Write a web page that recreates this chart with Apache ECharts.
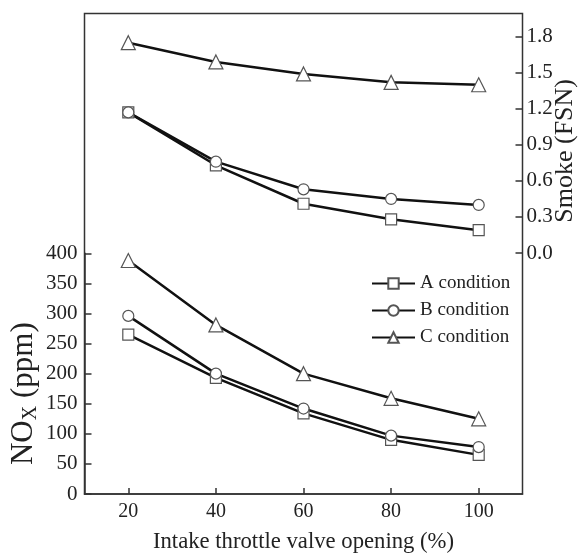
<!DOCTYPE html>
<html>
<head>
<meta charset="utf-8">
<script src="https://cdn.jsdelivr.net/npm/echarts@6/dist/echarts.min.js"></script>
<style>
html, body { margin: 0; padding: 0; background: #fff; }
#main { width: 580px; height: 554px; }
</style>
</head>
<body>
<div id="main"></div>
<script>
// throttle opening (%)
var openings = ['20', '40', '60', '80', '100'];
// NOx (ppm), left axis
var noxA = [265, 193, 134, 90, 65];
var noxB = [296, 200, 142, 97, 78];
var noxC = [388, 281, 200, 159, 125];
// smoke (FSN), right axis
var smokeA = [1.17, 0.73, 0.41, 0.28, 0.19];
var smokeB = [1.17, 0.76, 0.53, 0.45, 0.40];
var smokeC = [1.75, 1.59, 1.49, 1.42, 1.40];
var names = ['A condition', 'B condition', 'C condition'];
var symbols = ['rect', 'circle', 'triangle'];

var font = '"Liberation Serif", "Times New Roman", serif';
var axisCol = '#333';
var lineCol = '#111';
var txtCol = '#222';

var myChart = echarts.init(document.getElementById('main'));

function catAxis(grid, show) {
    return {
        type: 'category', gridIndex: grid, data: openings, boundaryGap: true,
        show: show,
        axisLine: {show: show, lineStyle: {color: axisCol, width: 1.5}},
        axisTick: {show: show, inside: true, alignWithLabel: true, length: 6, lineStyle: {color: axisCol, width: 1.5}},
        axisLabel: {show: show, color: txtCol, fontFamily: font, fontSize: 20, margin: 8},
        splitLine: {show: false},
        name: show ? 'Intake throttle valve opening (%)' : '',
        nameLocation: 'middle', nameGap: 37, nameMoveOverlap: false,
        nameTextStyle: {color: txtCol, fontFamily: font, fontSize: 22.7}
    };
}

function makeSeries(name, sym, data, grid) {
    return {
        name: name, type: 'line', xAxisIndex: grid, yAxisIndex: grid,
        data: data, symbol: sym, symbolSize: sym == 'triangle' ? 14 : 11,
        showAllSymbol: true,
        lineStyle: {color: lineCol, width: 2.5},
        itemStyle: {color: '#fff', borderColor: '#555', borderWidth: 1.2},
        emphasis: {disabled: true},
        animation: false
    };
}

var series = [];
var noxData = [noxA, noxB, noxC];
var smokeData = [smokeA, smokeB, smokeC];
for (var i = 0; i < 3; i++) {
    series.push(makeSeries(names[i], symbols[i], noxData[i], 1));
}
for (var i = 0; i < 3; i++) {
    series.push(makeSeries(names[i], symbols[i], smokeData[i], 2));
}

myChart.setOption({
    backgroundColor: '#fff',
    animation: false,
    grid: [
        {left: 84.5, right: 57.5, top: 13.5, bottom: 60, show: true, borderColor: axisCol, borderWidth: 1.5,
            backgroundColor: 'transparent', outerBoundsMode: 'none'},
        {left: 84.5, right: 57.5, top: 253.3, bottom: 60, outerBoundsMode: 'none'},
        {left: 84.5, right: 57.5, top: 36.7, height: 216.3, outerBoundsMode: 'none'}
    ],
    legend: {
        left: 371, top: 274, orient: 'vertical', padding: 0,
        itemWidth: 43, itemHeight: 13, itemGap: 8,
        data: names,
        textStyle: {color: txtCol, fontFamily: font, fontSize: 19}
    },
    xAxis: [catAxis(0, true), catAxis(1, false), catAxis(2, false)],
    yAxis: [
        {type: 'value', gridIndex: 0, show: false, min: 0, max: 1},
        {
            type: 'value', gridIndex: 1, min: 0, max: 400, interval: 50,
            axisLine: {show: true, lineStyle: {color: axisCol, width: 1.5}},
            axisTick: {show: true, inside: true, length: 7, lineStyle: {color: axisCol, width: 1.5}},
            axisLabel: {color: txtCol, fontFamily: font, fontSize: 21, margin: 7},
            splitLine: {show: false},
            name: 'NO{sub|X} (ppm)', nameLocation: 'middle', nameGap: 44, nameRotate: 90,
            nameMoveOverlap: false,
            nameTextStyle: {
                color: txtCol, fontFamily: font, fontSize: 31, padding: [0, 40, 0, 0],
                rich: {sub: {fontFamily: font, fontSize: 20, color: txtCol, padding: [14, 0, 0, 0]}}
            }
        },
        {
            type: 'value', gridIndex: 2, position: 'right', min: 0, max: 1.8, interval: 0.3,
            axisLine: {show: false},
            axisTick: {show: true, inside: true, length: 7, lineStyle: {color: axisCol, width: 1.5}},
            axisLabel: {color: txtCol, fontFamily: font, fontSize: 21, margin: 4,
                formatter: function (v) { return v.toFixed(1); }},
            splitLine: {show: false},
            name: 'Smoke (FSN)', nameLocation: 'middle', nameGap: 30, nameRotate: 90,
            nameMoveOverlap: false,
            nameTextStyle: {color: txtCol, fontFamily: font, fontSize: 26, padding: [0, 12, 0, 0]}
        }
    ],
    series: series
});
</script>
</body>
</html>
